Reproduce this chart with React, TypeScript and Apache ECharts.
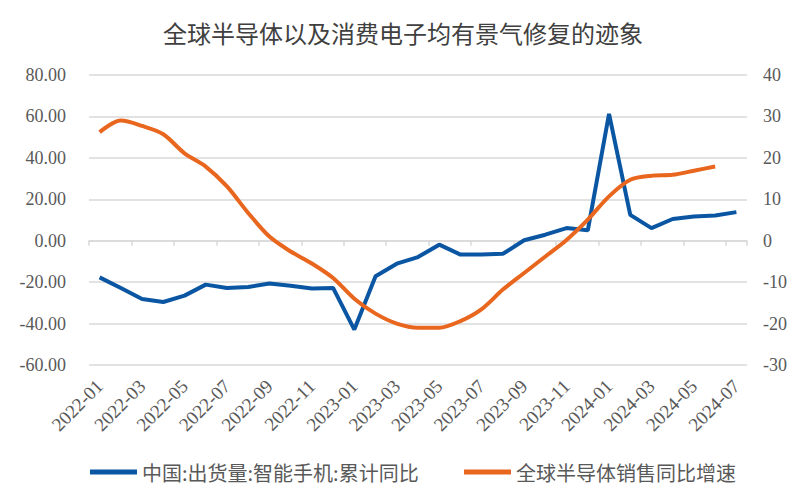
import React, { useEffect, useRef } from "react";
import * as echarts from "echarts";

const categories = [
  "2022-01","2022-02","2022-03","2022-04","2022-05","2022-06","2022-07","2022-08","2022-09","2022-10","2022-11","2022-12",
  "2023-01","2023-02","2023-03","2023-04","2023-05","2023-06","2023-07","2023-08","2023-09","2023-10","2023-11","2023-12",
  "2024-01","2024-02","2024-03","2024-04","2024-05","2024-06","2024-07",
];

// 中国:出货量:智能手机:累计同比 (left axis)
const phoneYoY = [
  -17.7, -22.8, -28.1, -29.6, -26.5, -21.2, -22.8, -22.3, -20.7, -21.7, -23.1, -22.8,
  -42.9, -17.2, -11.1, -7.9, -1.9, -6.7, -6.7, -6.3, 0.2, 2.9, 6.1, 5.0,
  61.2, 12.5, 6.1, 10.5, 11.7, 12.2, 13.8,
];

// 全球半导体销售同比增速 (right axis)
const semiYoY = [
  26.2, 29.0, 27.7, 25.7, 21.1, 17.9, 13.1, 6.7, 1.0, -2.6, -5.5, -9.0,
  -14.0, -17.6, -20.0, -21.0, -21.0, -19.4, -16.5, -11.8, -7.8, -3.8, 0.2, 5.1,
  10.7, 14.7, 15.7, 15.9, 16.9, 17.9,
];

const leftTicks = { min: -60, max: 80, interval: 20 };
const rightTicks = { min: -30, max: 40, interval: 10 };

const titleText = "全球半导体以及消费电子均有景气修复的迹象";
const seriesNames = ["中国:出货量:智能手机:累计同比", "全球半导体销售同比增速"];

export default function App() {
  const ref = useRef<HTMLDivElement>(null);
  useEffect(() => {
    if (!ref.current) return;
    const chart = echarts.init(ref.current, null, { renderer: "svg" });
    const labelStyle = {
      fontFamily: "Liberation Serif",
      fontSize: 18,
      color: "#595959",
    };
    const legendBase = {
      bottom: 16,
      itemWidth: 47,
      itemHeight: 5,
      icon: "rect",
      textStyle: {
        fontFamily: "Noto Sans CJK SC",
        fontSize: 20,
        color: "#595959",
      },
    };
    chart.setOption({
      animation: false,
      backgroundColor: "#ffffff",
      title: {
        text: titleText,
        left: "center",
        top: 15,
        textStyle: {
          fontFamily: "Noto Sans CJK SC",
          fontSize: 24,
          fontWeight: "normal",
          color: "#404040",
        },
      },
      legend: [
        { ...legendBase, left: 85, data: [seriesNames[0]] },
        { ...legendBase, left: 459, data: [seriesNames[1]] },
      ],
      grid: { left: 89, right: 59, top: 75, bottom: 138 },
      xAxis: [
        {
          type: "category",
          data: categories,
          boundaryGap: true,
          position: "bottom",
          axisLine: { show: false, onZero: false },
          axisTick: { show: false },
          axisLabel: { ...labelStyle, fontSize: 19, rotate: 45, interval: 1, margin: 18 },
        },
        {
          type: "category",
          data: categories,
          boundaryGap: true,
          position: "bottom",
          axisLine: { show: true, onZero: true, onZeroAxisIndex: 0, lineStyle: { color: "#d9d9d9", width: 1.5 } },
          axisTick: { show: true, interval: 1, length: 5, lineStyle: { color: "#d9d9d9", width: 1.5 } },
          axisLabel: { show: false },
        },
      ],
      yAxis: [
        {
          type: "value",
          ...leftTicks,
          axisLine: { show: false },
          axisTick: { show: false },
          splitLine: { lineStyle: { color: "#d9d9d9", width: 1.5 } },
          axisLabel: { ...labelStyle, margin: 23, formatter: (v: number) => v.toFixed(2) },
        },
        {
          type: "value",
          ...rightTicks,
          axisLine: { show: false },
          axisTick: { show: false },
          splitLine: { show: false },
          axisLabel: { ...labelStyle, margin: 16 },
        },
      ],
      series: [
        {
          name: seriesNames[0],
          type: "line",
          xAxisIndex: 0,
          yAxisIndex: 0,
          data: phoneYoY,
          symbol: "none",
          lineStyle: { width: 4, color: "#0B56A3" },
          itemStyle: { color: "#0B56A3" },
        },
        {
          name: seriesNames[1],
          type: "line",
          xAxisIndex: 0,
          yAxisIndex: 1,
          data: semiYoY,
          symbol: "none",
          smooth: 0.3,
          lineStyle: { width: 4, color: "#E8661E" },
          itemStyle: { color: "#E8661E" },
        },
      ],
    });
    return () => chart.dispose();
  }, []);
  return (
    <div
      ref={ref}
      style={{ position: "fixed", left: 0, top: 0, width: 806, height: 503, background: "#fff" }}
    />
  );
}
